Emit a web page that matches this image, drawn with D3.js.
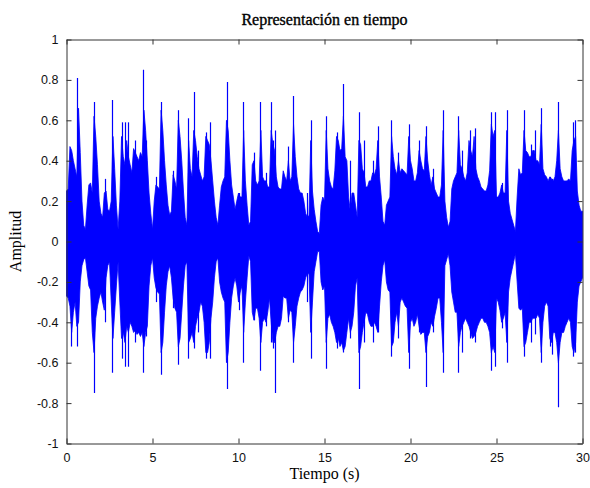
<!DOCTYPE html>
<html>
<head>
<meta charset="utf-8">
<script src="https://cdn.jsdelivr.net/npm/d3@7"></script>
<style>
  html, body { margin: 0; padding: 0; background: #ffffff; }
  svg { display: block; }
</style>
</head>
<body>
<svg id="chart" width="590" height="488"></svg>
<script>
// Audio signal, 30 s: upper / lower envelope sampled every 0.1 s (one row per second)
const envelopeStep = 0.1;
const upperEnvelope = [
  0.25,0.26,0.47,0.45,0.40,0.36,0.32,0.66,0.44,0.20,
  0.08,0.06,0.18,0.28,0.29,0.24,0.62,0.52,0.38,0.20,
  0.14,0.12,0.24,0.25,0.16,0.15,0.20,0.52,0.36,0.18,
  0.06,0.20,0.52,0.42,0.38,0.50,0.42,0.38,0.34,0.46,
  0.44,0.42,0.40,0.44,0.42,0.65,0.55,0.40,0.24,0.14,
  0.06,0.20,0.28,0.27,0.26,0.65,0.55,0.40,0.28,0.18,
  0.13,0.15,0.33,0.30,0.26,0.60,0.52,0.40,0.25,0.12,
  0.08,0.50,0.36,0.32,0.55,0.50,0.42,0.36,0.33,0.30,
  0.32,0.52,0.50,0.48,0.40,0.30,0.20,0.12,0.08,0.18,
  0.27,0.30,0.32,0.60,0.55,0.40,0.28,0.22,0.16,0.20,
  0.24,0.22,0.22,0.55,0.30,0.18,0.08,0.10,0.38,0.40,
  0.30,0.28,0.30,0.55,0.32,0.30,0.30,0.27,0.27,0.55,
  0.48,0.45,0.32,0.27,0.26,0.26,0.35,0.32,0.30,0.40,
  0.30,0.32,0.58,0.42,0.32,0.26,0.24,0.24,0.20,0.14,
  0.12,0.13,0.50,0.25,0.16,0.10,0.05,0.04,0.18,0.22,
  0.20,0.55,0.36,0.30,0.27,0.26,0.35,0.52,0.50,0.45,
  0.46,0.62,0.42,0.40,0.22,0.15,0.24,0.24,0.18,0.12,
  0.50,0.48,0.36,0.34,0.27,0.27,0.30,0.30,0.34,0.33,
  0.36,0.50,0.32,0.22,0.10,0.08,0.18,0.20,0.22,0.52,
  0.42,0.36,0.33,0.40,0.34,0.36,0.35,0.34,0.33,0.52,
  0.40,0.36,0.30,0.30,0.34,0.45,0.40,0.36,0.35,0.52,
  0.40,0.33,0.28,0.32,0.26,0.24,0.22,0.22,0.28,0.55,
  0.20,0.12,0.07,0.10,0.26,0.30,0.32,0.34,0.55,0.38,
  0.36,0.32,0.30,0.34,0.50,0.45,0.42,0.52,0.36,0.32,
  0.30,0.27,0.26,0.25,0.25,0.28,0.35,0.58,0.52,0.55,
  0.22,0.22,0.24,0.28,0.24,0.24,0.55,0.20,0.14,0.11,
  0.08,0.05,0.22,0.36,0.33,0.34,0.55,0.45,0.44,0.42,
  0.42,0.45,0.45,0.40,0.40,0.38,0.58,0.36,0.33,0.32,
  0.30,0.32,0.31,0.30,0.32,0.40,0.55,0.36,0.32,0.30,
  0.30,0.30,0.31,0.30,0.45,0.50,0.52,0.25,0.18,0.15,
  0.15
];
const lowerEnvelope = [
  -0.27,-0.28,-0.32,-0.45,-0.35,-0.30,-0.42,-0.40,-0.20,-0.12,
  -0.09,-0.08,-0.15,-0.22,-0.24,-0.45,-0.55,-0.38,-0.32,-0.28,
  -0.25,-0.30,-0.34,-0.18,-0.12,-0.10,-0.30,-0.48,-0.35,-0.22,
  -0.10,-0.30,-0.48,-0.45,-0.50,-0.42,-0.45,-0.40,-0.42,-0.45,
  -0.44,-0.46,-0.45,-0.47,-0.45,-0.52,-0.45,-0.42,-0.22,-0.12,
  -0.08,-0.18,-0.23,-0.25,-0.26,-0.55,-0.50,-0.35,-0.22,-0.15,
  -0.12,-0.18,-0.28,-0.33,-0.35,-0.52,-0.48,-0.35,-0.22,-0.12,
  -0.10,-0.50,-0.48,-0.45,-0.50,-0.42,-0.38,-0.35,-0.30,-0.32,
  -0.40,-0.55,-0.55,-0.50,-0.38,-0.30,-0.18,-0.10,-0.08,-0.20,
  -0.25,-0.28,-0.30,-0.60,-0.55,-0.40,-0.28,-0.22,-0.18,-0.22,
  -0.30,-0.25,-0.22,-0.45,-0.30,-0.18,-0.07,-0.10,-0.35,-0.39,
  -0.33,-0.33,-0.38,-0.50,-0.40,-0.38,-0.40,-0.35,-0.28,-0.40,
  -0.50,-0.50,-0.45,-0.42,-0.42,-0.38,-0.27,-0.28,-0.28,-0.38,
  -0.34,-0.35,-0.50,-0.42,-0.32,-0.28,-0.25,-0.24,-0.22,-0.18,
  -0.16,-0.16,-0.45,-0.30,-0.15,-0.10,-0.05,-0.05,-0.20,-0.24,
  -0.22,-0.50,-0.38,-0.36,-0.40,-0.42,-0.45,-0.50,-0.48,-0.52,
  -0.50,-0.54,-0.52,-0.45,-0.38,-0.45,-0.42,-0.35,-0.22,-0.18,
  -0.55,-0.52,-0.45,-0.40,-0.35,-0.36,-0.40,-0.42,-0.42,-0.40,
  -0.42,-0.45,-0.32,-0.20,-0.12,-0.09,-0.20,-0.24,-0.25,-0.52,
  -0.50,-0.40,-0.35,-0.42,-0.30,-0.28,-0.30,-0.32,-0.33,-0.55,
  -0.40,-0.38,-0.42,-0.40,-0.36,-0.42,-0.46,-0.45,-0.45,-0.55,
  -0.47,-0.45,-0.40,-0.42,-0.37,-0.33,-0.28,-0.28,-0.40,-0.55,
  -0.12,-0.09,-0.06,-0.12,-0.25,-0.30,-0.35,-0.35,-0.52,-0.45,
  -0.42,-0.40,-0.38,-0.40,-0.42,-0.45,-0.48,-0.47,-0.45,-0.42,
  -0.40,-0.38,-0.38,-0.40,-0.40,-0.42,-0.45,-0.55,-0.52,-0.55,
  -0.28,-0.30,-0.34,-0.40,-0.38,-0.35,-0.50,-0.25,-0.18,-0.14,
  -0.10,-0.06,-0.20,-0.33,-0.34,-0.33,-0.52,-0.50,-0.45,-0.40,
  -0.40,-0.38,-0.38,-0.38,-0.36,-0.38,-0.55,-0.40,-0.32,-0.30,
  -0.32,-0.48,-0.50,-0.45,-0.45,-0.50,-0.60,-0.50,-0.45,-0.45,
  -0.42,-0.40,-0.38,-0.40,-0.52,-0.55,-0.50,-0.30,-0.22,-0.20,
  -0.18
];

// Transient peaks (onsets) that rise above the envelope
const spikeTimes = [0.29,0.62,1.59,2.26,2.62,3.20,3.40,3.58,4.00,4.45,4.60,5.20,5.48,6.20,6.49,7.05,7.40,7.65,8.10,8.35,9.32,10.00,10.29,10.89,11.26,11.60,11.88,12.00,12.13,12.90,13.16,14.00,14.20,15.10,15.70,16.06,16.50,17.03,17.30,17.80,18.10,18.87,19.30,19.90,20.48,20.91,21.30,21.88,22.75,23.00,23.45,23.74,24.69,24.90,25.30,25.62,26.61,27.00,27.25,27.61,28.10,28.20,28.55,29.46,29.58];
const spikeHigh  = [0.44,0.81,0.69,0.31,0.70,0.59,0.59,0.59,0.50,0.85,0.50,0.32,0.69,0.35,0.65,0.61,0.74,0.45,0.54,0.59,0.79,0.24,0.69,0.44,0.69,0.34,0.69,0.50,0.55,0.47,0.72,0.24,0.60,0.62,0.54,0.78,0.40,0.64,0.50,0.40,0.57,0.60,0.44,0.58,0.50,0.57,0.36,0.65,0.62,0.45,0.55,0.56,0.64,0.64,0.29,0.65,0.65,0.48,0.55,0.66,0.32,0.31,0.69,0.59,0.60];
const spikeLow   = [-0.52,-0.52,-0.75,-0.40,-0.65,-0.58,-0.62,-0.62,-0.50,-0.65,-0.47,-0.30,-0.66,-0.33,-0.61,-0.58,-0.53,-0.45,-0.58,-0.58,-0.73,-0.34,-0.60,-0.39,-0.64,-0.42,-0.50,-0.53,-0.75,-0.40,-0.60,-0.30,-0.58,-0.63,-0.53,-0.55,-0.48,-0.73,-0.50,-0.50,-0.45,-0.57,-0.48,-0.63,-0.45,-0.72,-0.45,-0.65,-0.65,-0.55,-0.48,-0.50,-0.64,-0.62,-0.43,-0.60,-0.57,-0.50,-0.46,-0.60,-0.52,-0.56,-0.82,-0.57,-0.55];

const xTicks = [0, 5, 10, 15, 20, 25, 30];
const xTickLabels = ["0", "5", "10", "15", "20", "25", "30"];
const yTicks = [-1, -0.8, -0.6, -0.4, -0.2, 0, 0.2, 0.4, 0.6, 0.8, 1];
const yTickLabels = ["-1", "-0.8", "-0.6", "-0.4", "-0.2", "0", "0.2", "0.4", "0.6", "0.8", "1"];

const titleText = "Representación en tiempo";
const xLabelText = "Tiempo (s)";
const yLabelText = "Amplitud";

// Layout of the axes box
const boxLeft = 66.5, boxRight = 582.5, boxTop = 39.5, boxBottom = 443.5;
const svg = d3.select("#chart");

const x = d3.scaleLinear().domain([0, 30]).range([boxLeft, boxRight]);
const y = d3.scaleLinear().domain([-1, 1]).range([boxBottom, boxTop]);

const envelope = upperEnvelope.map((u, i) => ({ t: +(i * envelopeStep).toFixed(2), hi: u, lo: lowerEnvelope[i] }));
const spikes = spikeTimes.map((t, i) => ({ t, hi: spikeHigh[i], lo: spikeLow[i] }));

const plot = svg.append("g");
const blue = "#0000ff";

// Dense body of the waveform
plot.append("path")
  .datum(envelope)
  .attr("fill", blue)
  .attr("stroke", blue)
  .attr("stroke-width", 0.8)
  .attr("stroke-linejoin", "miter")
  .attr("d", d3.area()
    .x(d => x(d.t))
    .y0(d => y(d.lo))
    .y1(d => y(d.hi))
    .curve(d3.curveLinear));

// Peaks
plot.selectAll("line.spike")
  .data(spikes)
  .join("line")
  .attr("class", "spike")
  .attr("x1", d => Math.round(x(d.t)) + 0.5)
  .attr("x2", d => Math.round(x(d.t)) + 0.5)
  .attr("y1", d => y(d.hi))
  .attr("y2", d => y(d.lo))
  .attr("stroke", blue)
  .attr("stroke-width", 1.2);

// Axes box with inward ticks on all four sides
const axisColor = "#333333";
const tickLen = 5;
const tickFont = "'Liberation Sans', Arial, sans-serif";

const axisBottom = d3.axisBottom(x).tickValues(xTicks).tickFormat((d, i) => xTickLabels[i]).tickSizeInner(-tickLen).tickSizeOuter(0).tickPadding(10);
const axisTop = d3.axisTop(x).tickValues(xTicks).tickFormat("").tickSizeInner(-tickLen).tickSizeOuter(0);
const axisLeft = d3.axisLeft(y).tickValues(yTicks).tickFormat((d, i) => yTickLabels[i]).tickSizeInner(-tickLen).tickSizeOuter(0).tickPadding(8);
const axisRight = d3.axisRight(y).tickValues(yTicks).tickFormat("").tickSizeInner(-tickLen).tickSizeOuter(0);

function styleAxis(g) {
  g.select(".domain").attr("stroke", axisColor).attr("stroke-width", 1);
  g.selectAll(".tick line").attr("stroke", axisColor).attr("stroke-width", 1);
  g.selectAll(".tick text").attr("fill", "#111").attr("font-family", tickFont).attr("font-size", 12.5);
}

svg.append("g").attr("transform", `translate(0,${boxBottom})`).call(axisBottom).call(styleAxis);
svg.append("g").attr("transform", `translate(0,${boxTop})`).call(axisTop).call(styleAxis);
svg.append("g").attr("transform", `translate(${boxLeft},0)`).call(axisLeft).call(styleAxis);
svg.append("g").attr("transform", `translate(${boxRight},0)`).call(axisRight).call(styleAxis);

// Title and axis labels
const serif = "'Liberation Serif', 'Times New Roman', serif";
svg.append("text")
  .attr("x", (boxLeft + boxRight) / 2).attr("y", 25)
  .attr("text-anchor", "middle")
  .attr("font-family", serif).attr("font-size", 16)
  .attr("fill", "#000").attr("stroke", "#000").attr("stroke-width", 0.35)
  .text(titleText);

svg.append("text")
  .attr("x", (boxLeft + boxRight) / 2).attr("y", 479)
  .attr("text-anchor", "middle")
  .attr("font-family", serif).attr("font-size", 16)
  .attr("fill", "#000")
  .text(xLabelText);

svg.append("text")
  .attr("transform", `translate(21,${(boxTop + boxBottom) / 2}) rotate(-90)`)
  .attr("text-anchor", "middle")
  .attr("font-family", serif).attr("font-size", 16)
  .attr("fill", "#000")
  .text(yLabelText);
</script>
</body>
</html>
